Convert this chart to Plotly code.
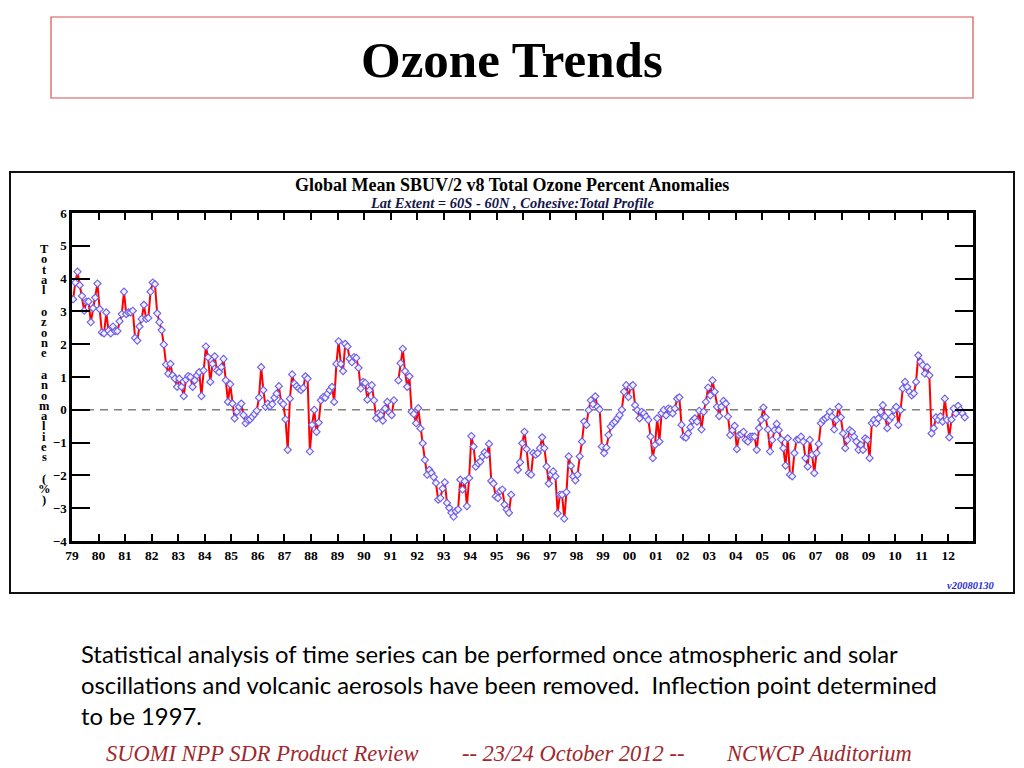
import plotly.graph_objects as go

# ---------------- data: monthly total-ozone percent anomalies ----------------
y1979 = [3.37, 3.88, 4.21, 3.80, 3.47, 3.02, 3.30, 3.30, 2.67, 3.10, 3.42, 3.85]
y1980 = [3.07, 2.36, 2.33, 2.97, 2.41, 2.33, 2.54, 2.40, 2.40, 2.70, 2.92, 3.60]
y1981 = [2.92, 2.97, 2.97, 3.02, 2.19, 2.11, 2.54, 2.77, 3.20, 2.77, 2.80, 3.60]
y1982 = [3.88, 3.83, 2.94, 2.67, 2.43, 1.99, 1.38, 1.10, 1.40, 1.05, 0.95, 0.70]
y1983 = [0.95, 0.70, 0.42, 0.92, 1.03, 1.00, 0.70, 0.90, 1.05, 1.15, 0.42, 1.20]
y1984 = [1.93, 1.60, 0.85, 1.40, 1.63, 1.20, 1.15, 1.30, 1.55, 0.90, 0.24, 0.78]
y1985 = [0.19, -0.26, -0.06, 0.09, 0.19, -0.16, -0.41, -0.31, -0.29, -0.21, -0.13, -0.03]
y1986 = [0.37, 1.30, 0.60, 0.09, 0.19, 0.11, 0.17, 0.37, 0.49, 0.72, 0.24, 0.17]
y1987 = [-0.29, -1.22, 0.34, 1.08, 0.80, 0.72, 0.65, 0.60, 0.67, 1.02, 0.95, -1.27]
y1988 = [-0.46, 0.00, -0.67, -0.39, 0.29, 0.39, 0.37, 0.49, 0.60, 0.70, 0.24, 1.40]
y1989 = [2.09, 1.40, 1.18, 2.01, 1.93, 1.56, 1.45, 1.61, 1.58, 1.28, 0.65, 0.85]
y1990 = [0.82, 0.31, 0.60, 0.75, 0.29, -0.26, -0.11, -0.16, -0.33, 0.04, 0.24, -0.09]
y1991 = [-0.16, 0.29, None, 0.90, 1.42, 1.86, 1.18, 0.70, 1.02, -0.06, -0.13, -0.41]
y1992 = [0.05, -0.57, -1.02, -1.53, -1.98, -1.83, -1.93, -2.05, -2.23, -2.74, -2.69, -2.40]
y1993 = [-2.21, -2.84, -2.99, -3.14, -3.26, -3.09, -3.04, -2.13, -2.43, -2.18, -2.94, -2.08]
y1994 = [-0.80, -1.12, -1.73, -1.63, -1.58, -1.42, -1.30, -1.37, -1.04, -2.17, -2.25, -2.64]
y1995 = [-2.69, -2.48, -2.43, -2.89, -3.04, -3.14, -2.59, None, None, -1.83, -1.60, -1.02]
y1996 = [-0.67, -1.20, -1.93, -1.98, -1.32, -1.37, -1.32, -1.17, -0.84, -1.17, -1.73, -2.25]
y1997 = [-1.98, -1.88, -2.03, -3.16, -2.59, -2.59, -3.32, -2.51, -1.42, -1.71, -2.03, -2.15]
y1998 = [-1.98, -1.42, -0.97, -0.36, -0.46, -0.01, 0.29, 0.17, 0.41, 0.09, 0.01, -1.12]
y1999 = [-1.32, -1.15, -0.77, -0.51, -0.41, -0.36, -0.26, -0.16, 0.00, 0.55, 0.75, 0.39]
y2000 = [0.70, 0.75, 0.14, -0.01, -0.26, -0.06, -0.11, -0.21, -0.31, -0.82, -1.47, -1.07]
y2001 = [-0.26, -0.97, -0.10, 0.00, -0.17, 0.04, 0.01, -0.11, 0.04, 0.34, 0.38, -0.46]
y2002 = [-0.82, -0.85, -0.72, -0.53, -0.33, -0.26, -0.36, -0.03, -0.60, -0.06, 0.24, 0.68]
y2003 = [0.44, 0.90, 0.55, 0.09, -0.19, 0.09, 0.27, 0.19, -0.21, -0.77, -0.62, -0.49]
y2004 = [-1.20, -0.77, -0.74, -0.67, -0.92, -0.97, -0.82, -0.82, -0.82, -1.22, -0.56, -0.31]
y2005 = [0.07, -0.23, -0.60, -1.27, -0.92, -0.62, -0.43, -0.62, -0.90, -1.17, -1.70, -0.87]
y2006 = [-1.98, -2.03, -1.32, -0.92, -0.90, -0.82, -0.97, -1.47, -1.73, -0.92, -1.37, -1.93]
y2007 = [-1.32, -1.04, -0.41, -0.31, -0.26, -0.21, -0.06, -0.21, -0.60, -0.31, 0.09, -0.23]
y2008 = [-0.72, -1.17, -0.92, -0.62, -0.67, -0.82, -0.97, -1.22, -1.07, -1.22, -0.87, -0.92]
y2009 = [-1.47, -0.41, -0.31, -0.41, -0.26, -0.06, 0.14, -0.21, -0.56, -0.31, -0.21, -0.01]
y2010 = [0.09, -0.46, -0.01, 0.65, 0.85, 0.70, 0.55, 0.44, 0.50, 0.85, 1.66, 1.46]
y2011 = [1.36, 1.10, 1.30, 1.05, -0.72, -0.56, -0.23, -0.31, -0.20, -0.36, 0.34, -0.31]
y2012 = [-0.84, -0.30, 0.04, -0.11, 0.12, 0.00, -0.11, -0.23]

year_lists = [y1979, y1980, y1981, y1982, y1983, y1984, y1985, y1986, y1987, y1988,
              y1989, y1990, y1991, y1992, y1993, y1994, y1995, y1996, y1997, y1998,
              y1999, y2000, y2001, y2002, y2003, y2004, y2005, y2006, y2007, y2008,
              y2009, y2010, y2011, y2012]
first_year = 1979

tick_years = list(range(1979, 2013))
tick_labels = ["79", "80", "81", "82", "83", "84", "85", "86", "87", "88", "89",
               "90", "91", "92", "93", "94", "95", "96", "97", "98", "99", "00",
               "01", "02", "03", "04", "05", "06", "07", "08", "09", "10", "11", "12"]
y_ticks = [6, 5, 4, 3, 2, 1, 0, -1, -2, -3, -4]

# ---------------- build monthly series ----------------
xs, ys = [], []
for i, lst in enumerate(year_lists):
    for m, v in enumerate(lst):
        xs.append(first_year + i + (m + 0.5) / 12.0)
        ys.append(v)

# ---------------- geometry helpers (layout only) ----------------
# the page body has an 8px margin, so the figure is drawn 8px in from the corner
OFF = 8
W, H = 1024 - OFF, 768 - OFF
ML, MR, MT, MB = 72 - OFF, 51, 213 - OFF, 227
PW = W - ML - MR
PH = H - MT - MB
YEAR_PX = 26.55


def px(x):
    """screen x (window pixels) -> paper coordinate"""
    return (x - OFF - ML) / PW


def py(y):
    """screen y (window pixels) -> paper coordinate"""
    return (H - MB - (y - OFF)) / PH


SERIF = "Liberation Serif, Times New Roman, serif"

fig = go.Figure()
fig.add_trace(go.Scatter(
    x=xs, y=ys, mode="lines+markers",
    line=dict(color="#ff0000", width=2),
    marker=dict(symbol="diamond", size=5.5, color="rgba(240,240,255,1)",
                line=dict(color="#6b5ce8", width=1.1)),
    connectgaps=False, hoverinfo="x+y", showlegend=False,
))

shapes = [
    # title box
    dict(type="rect", xref="paper", yref="paper", x0=px(51), x1=px(973), y0=py(98), y1=py(17),
         line=dict(color="#d9534f", width=1.2), fillcolor="rgba(0,0,0,0)"),
    # chart panel frame
    dict(type="rect", xref="paper", yref="paper", x0=px(10), x1=px(1014), y0=py(593), y1=py(172),
         line=dict(color="#111111", width=2), fillcolor="rgba(0,0,0,0)"),
    # zero reference line
    dict(type="line", xref="paper", yref="y", x0=0, x1=1, y0=0, y1=0,
         line=dict(color="#808080", width=1.6, dash="8px,6px"), layer="below"),
]

annotations = [
    dict(text="<b>Ozone Trends</b>", x=px(512), y=py(60), xref="paper", yref="paper",
         showarrow=False, xanchor="center", yanchor="middle",
         font=dict(family=SERIF, size=51, color="#000000")),
    dict(text="<b>Global Mean SBUV/2 v8 Total Ozone Percent Anomalies</b>", x=px(512), y=py(185),
         xref="paper", yref="paper", showarrow=False, xanchor="center", yanchor="middle",
         font=dict(family=SERIF, size=18, color="#000000")),
    dict(text="<b><i>Lat Extent = 60S - 60N , Cohesive:Total Profile</i></b>", x=px(512), y=py(203),
         xref="paper", yref="paper", showarrow=False, xanchor="center", yanchor="middle",
         font=dict(family=SERIF, size=14.5, color="#15154a")),
    dict(text="<b><i>v20080130</i></b>", x=px(970), y=py(585), xref="paper", yref="paper",
         showarrow=False, xanchor="center", yanchor="middle",
         font=dict(family=SERIF, size=10.5, color="#2b2bd6")),
]

# stacked vertical y-axis title
ylabel_words = ["Total", "ozone", "anomalies", "(%)"]
ypos = 249.0
for wi, word in enumerate(ylabel_words):
    for ci, ch in enumerate(word):
        annotations.append(dict(text="<b>" + ch + "</b>", x=px(44), y=py(ypos), xref="paper",
                                yref="paper", showarrow=False, xanchor="center", yanchor="middle",
                                font=dict(family=SERIF, size=12.5, color="#000000")))
        if ci < len(word) - 1:
            ypos += 10.25
    ypos += 22

body_lines = [
    "Statistical analysis of time series can be performed once atmospheric and solar",
    "oscillations and volcanic aerosols have been removed.  Inflection point determined",
    "to be 1997.",
]
for i, line in enumerate(body_lines):
    annotations.append(dict(text=line.replace("  ", "&nbsp; "), x=px(79), y=py(654 + 31 * i),
                            xref="paper", yref="paper", showarrow=False, xanchor="left",
                            yanchor="middle", font=dict(family="Lato, Carlito, sans-serif",
                                                        size=23.8, color="#000000")))

footer = [("SUOMI NPP SDR Product Review", 104), ("-- 23/24 October 2012 --", 460),
          ("NCWCP Auditorium", 724)]
for txt, x0 in footer:
    annotations.append(dict(text="<i>" + txt + "</i>", x=px(x0), y=py(768), xref="paper",
                            yref="paper", showarrow=False, xanchor="left", yanchor="bottom",
                            font=dict(family=SERIF, size=22.5, color="#a0282d")))

fig.update_layout(
    width=W, height=H,
    margin=dict(l=ML, r=MR, t=MT, b=MB, pad=0),
    paper_bgcolor="white", plot_bgcolor="white",
    shapes=shapes, annotations=annotations,
    xaxis=dict(range=[first_year, first_year + PW / YEAR_PX], tickvals=tick_years,
               ticktext=tick_labels, ticks="inside", ticklen=7, tickwidth=2, tickcolor="#000",
               showline=True, linewidth=2.5, linecolor="#000", mirror="ticks",
               showgrid=False, zeroline=False,
               tickfont=dict(family=SERIF, size=13.5, color="#000", weight="bold")),
    yaxis=dict(range=[-4, 6], tickvals=y_ticks, ticks="inside", ticklen=18, tickwidth=2,
               tickcolor="#000", showline=True, linewidth=2.5, linecolor="#000",
               mirror="ticks", showgrid=False, zeroline=False,
               tickfont=dict(family=SERIF, size=13, color="#000", weight="bold")),
)

fig.write_html("out.html")
